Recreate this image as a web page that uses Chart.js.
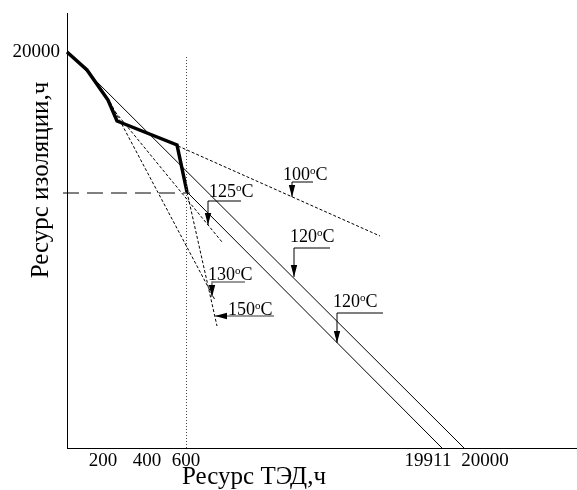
<!DOCTYPE html>
<html>
<head>
<meta charset="utf-8">
<script src="https://cdn.jsdelivr.net/npm/chart.js@4/dist/chart.umd.min.js"></script>
<style>
  body{margin:0;background:#fff;}
  #wrap{width:577px;height:490px;}
</style>
</head>
<body>
<div id="wrap"><canvas id="myChart" width="577" height="490"></canvas></div>
<script>
// schematic axes: x and y are in drawing units (the real axis is broken)
const xTickPos = [36, 80, 119, 361, 418];
const xTickLabels = ['200', '400', '600', '19911', '20000'];
const yTickPos = [396];
const yTickLabels = ['20000'];

const mainCurve = [[0,396],[20,378],[41,348],[50,327],[110,303],[120,256]];
const line120a = [[0,396],[397,0]];
const line120b = [[120,256],[375,0]];
const line100 = [[111,302],[313,212]];
const line125 = [[45,340],[155,206]];
const line130 = [[43,346],[148,148]];
const line150 = [[120,256],[150,122]];
const level600 = [[-4,255],[123,255]];
const mark600 = [[119.5,391],[119.5,0]];

// temperature labels and their arrows
const labelTemps = ['100', '125', '120', '120', '130', '150'];
const labelPos = [[216,268],[142,251],[223,206],[266,141],[141,168],[161,133]];
const labelLeaders = [
  [[246,266],[225,266],[225,251]],
  [[174,247],[141,247],[141,223]],
  [[263,200],[227,200],[227,171]],
  [[316,135],[270,135],[270,105]],
  [[178,166],[145,166],[145,151]],
  [[207,132],[148,132]]
];
const labelGray = [false, false, false, false, true, true];

const serif = "'Liberation Serif', 'Times New Roman', serif";

function pts(arr){
  return arr.map(p => ({x: p[0], y: p[1]}));
}

function lineSet(arr, width, dash, color){
  return {
    data: pts(arr),
    borderColor: color || '#000',
    borderWidth: width,
    borderDash: dash || [],
    pointRadius: 0,
    tension: 0,
    fill: false,
    clip: false
  };
}

const annotations = {
  id: 'annotations',
  afterDatasetsDraw(chart){
    const ctx = chart.ctx;
    const xs = chart.scales.x, ys = chart.scales.y;
    ctx.save();
    // arrows
    labelLeaders.forEach((leader, i) => {
      ctx.beginPath();
      leader.forEach((p, k) => {
        const px = xs.getPixelForValue(p[0]), py = ys.getPixelForValue(p[1]);
        if (k == 0) ctx.moveTo(px, py); else ctx.lineTo(px, py);
      });
      ctx.strokeStyle = labelGray[i] ? '#777' : '#000';
      ctx.lineWidth = labelGray[i] ? 1.6 : 1;
      ctx.stroke();
      const a = leader[leader.length - 2], b = leader[leader.length - 1];
      const ax = xs.getPixelForValue(a[0]), ay = ys.getPixelForValue(a[1]);
      const bx = xs.getPixelForValue(b[0]), by = ys.getPixelForValue(b[1]);
      const ang = Math.atan2(by - ay, bx - ax);
      ctx.save();
      ctx.translate(bx, by);
      ctx.rotate(ang);
      ctx.beginPath();
      ctx.moveTo(0, 0);
      ctx.lineTo(-12, -3.2);
      ctx.lineTo(-12, 3.2);
      ctx.closePath();
      ctx.fillStyle = '#000';
      ctx.fill();
      ctx.restore();
    });
    // label texts with superscript o
    ctx.fillStyle = '#000';
    ctx.textBaseline = 'alphabetic';
    ctx.textAlign = 'left';
    labelTemps.forEach((t, i) => {
      let px = xs.getPixelForValue(labelPos[i][0]);
      const py = ys.getPixelForValue(labelPos[i][1]);
      ctx.font = '18px ' + serif;
      ctx.fillText(t, px, py);
      px += ctx.measureText(t).width;
      ctx.font = '11px ' + serif;
      ctx.fillText('o', px, py - 6);
      px += ctx.measureText('o').width;
      ctx.font = '18px ' + serif;
      ctx.fillText('C', px, py);
    });
    // axis titles
    ctx.font = '25px ' + serif;
    ctx.textAlign = 'center';
    ctx.fillText('Ресурс ТЭД,ч', 254, 484);
    ctx.save();
    ctx.translate(48, 180);
    ctx.rotate(-Math.PI / 2);
    ctx.fillText('Ресурс изоляции,ч', 0, 0);
    ctx.restore();
    ctx.restore();
  }
};

var ctx = document.getElementById('myChart').getContext('2d');
var myChart = new Chart(ctx, {
  type: 'line',
  data: {
    datasets: [
      lineSet(line120a, 1),
      lineSet(line120b, 1),
      lineSet(line100, 1, [3, 2]),
      lineSet(line125, 1, [3, 2]),
      lineSet(line130, 1, [3, 2]),
      lineSet(line150, 1, [3, 2]),
      lineSet(level600, 1, [16, 8]),
      lineSet(mark600, 1, [1, 2], '#444'),
      lineSet(mainCurve, 3.5)
    ]
  },
  options: {
    responsive: false,
    animation: false,
    layout: {padding: {top: 13, right: 0, left: 0, bottom: 0}},
    plugins: {legend: {display: false}, tooltip: {enabled: false}},
    scales: {
      x: {
        type: 'linear', min: 0, max: 510,
        afterFit: s => { s.height = 42; s.paddingLeft = 0; s.paddingRight = 0; },
        afterBuildTicks: s => { s.ticks = xTickPos.map(v => ({value: v})); },
        ticks: {
          callback: (v, i) => xTickLabels[i],
          autoSkip: false, maxRotation: 0, padding: 2,
          color: '#000', font: {family: serif, size: 19}
        },
        grid: {display: false, drawTicks: false},
        border: {display: true, color: '#000', width: 1}
      },
      y: {
        type: 'linear', min: 0, max: 435,
        afterFit: s => { s.width = 67; s.paddingTop = 0; s.paddingBottom = 0; },
        afterBuildTicks: s => { s.ticks = yTickPos.map(v => ({value: v})); },
        ticks: {
          callback: (v, i) => yTickLabels[i],
          autoSkip: false, padding: 7,
          color: '#000', font: {family: serif, size: 19}
        },
        grid: {display: false, drawTicks: false},
        border: {display: true, color: '#000', width: 1}
      }
    }
  },
  plugins: [annotations]
});
</script>
</body>
</html>
